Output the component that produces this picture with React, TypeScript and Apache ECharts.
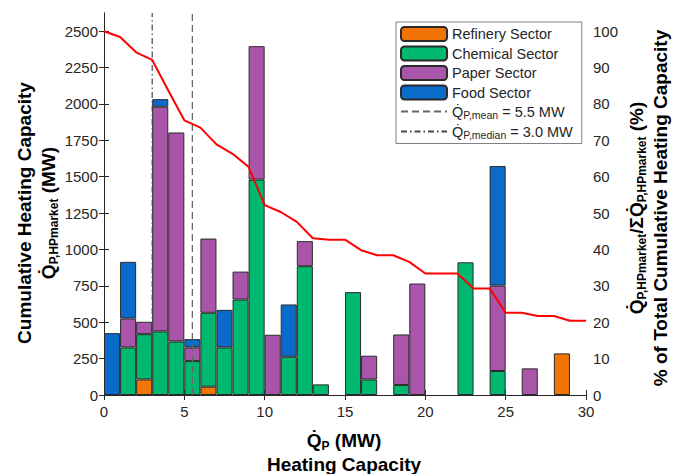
import React, { useEffect, useRef } from "react";
import * as echarts from "echarts";

// Bin start (MW), each bin 1 MW wide
const binStarts = [0, 1, 2, 3, 4, 5, 6, 7, 8, 9, 10, 11, 12, 13, 14, 15, 16, 17, 18, 19, 20, 21, 22, 23, 24, 25, 26, 27, 28, 29];
const refinery = [null, null, 107, null, null, null, 57, null, null, null, null, null, null, null, null, null, null, null, null, null, null, null, null, null, null, null, null, null, 286, null];
const chemical = [null, 327, 311, 437, 368, 233, 508, 327, 656, 1480, null, 263, 885, 73, null, 707, 107, null, 69, null, null, null, 912, null, 165, null, null, null, null, null];
const paper = [null, 199, 85, 1544, 1436, 94, 510, null, 192, 917, 414, null, 172, null, null, null, 163, null, 347, 766, null, null, null, null, 587, null, 183, null, null, null];
const food = [425, 389, null, 52, null, 57, null, 258, null, null, null, 359, null, null, null, null, null, null, null, null, null, null, null, null, 821, null, null, null, null, null];

// Cumulative share curve (%)
const cumX = [0, 1, 2, 3, 4, 5, 6, 7, 8, 9, 10, 11, 12, 13, 14, 15, 16, 17, 18, 19, 20, 21, 22, 23, 24, 25, 26, 27, 28, 29, 30];
const cumPct = [100, 98.4, 94.2, 92.1, 83.7, 75.5, 73.5, 68.9, 66.3, 62.7, 52.2, 50.3, 47.6, 43.1, 42.7, 42.7, 39.8, 38.4, 38.4, 36.6, 33.4, 33.4, 33.4, 29.3, 29.3, 22.6, 22.6, 21.7, 21.7, 20.4, 20.4];

const meanQ = 5.5;
const medianQ = 3.0;

const xTicks = { min: 0, max: 30, interval: 5 };
const yLeft = { min: 0, max: 2625, interval: 250 };
const yRight = { min: 0, max: 105, interval: 10 };

const FONT = "'Liberation Sans', Arial, Helvetica, sans-serif";
const TXT = "#262626";

export default function App() {
  const ref = useRef<HTMLDivElement>(null);
  useEffect(() => {
    document.body.style.margin = "0";
    if (!ref.current) return;
    const chart = echarts.init(ref.current, null, { renderer: "svg" });
    const grid = { left: 104, right: 100, top: 13, bottom: 79 };
    const barStyle = (color: string) => ({ color, borderColor: "#2b2b2b", borderWidth: 1 });

    const axisCommon = {
      axisLine: { show: true, lineStyle: { color: TXT, width: 1 } },
      axisTick: { show: true, inside: true, length: 5, lineStyle: { color: TXT } },
      splitLine: { show: false },
    };
    const labelStyle = { fontSize: 15, color: TXT, fontFamily: FONT, formatter: (v: number) => String(v) };

    const legendText: Record<string, string> = {
      mean: "{q|Q\u0307}{s|P,mean}{t| = " + meanQ.toFixed(1) + " MW}",
      median: "{q|Q\u0307}{s|P,median}{t| = " + medianQ.toFixed(1) + " MW}",
    };

    const titleRich = {
      a: { fontSize: 19, fontWeight: "bold", fontFamily: FONT, color: TXT, lineHeight: 24 },
      q: { fontSize: 19, fontWeight: "bold", fontFamily: FONT, color: TXT, lineHeight: 24 },
      s: { fontSize: 12, fontWeight: "bold", fontFamily: FONT, color: TXT, lineHeight: 24, verticalAlign: "bottom" },
    };

    chart.setOption({
      animation: false,
      backgroundColor: "#fff",
      grid: { ...grid, containLabel: false },
      xAxis: [
        { type: "value", position: "bottom", ...xTicks, ...axisCommon, axisLabel: { ...labelStyle, margin: 9 } },
        { type: "value", position: "top", ...xTicks, ...axisCommon, axisLabel: { show: false } },
        { type: "category", position: "bottom", data: binStarts.map(String), boundaryGap: true, show: false },
      ],
      yAxis: [
        { type: "value", position: "left", ...yLeft, ...axisCommon, axisLabel: { ...labelStyle, margin: 6, showMaxLabel: false } },
        { type: "value", position: "right", ...yRight, ...axisCommon, axisLabel: { ...labelStyle, margin: 7, showMaxLabel: false } },
      ],
      legend: {
        orient: "vertical",
        left: 396,
        top: 22,
        padding: [4, 9, 3, 4],
        itemWidth: 46,
        itemHeight: 14,
        itemGap: 3.5,
        borderColor: "#808080",
        borderWidth: 1,
        backgroundColor: "#fff",
        data: [
          "Refinery Sector",
          "Chemical Sector",
          "Paper Sector",
          "Food Sector",
          { name: "mean", itemStyle: { opacity: 0 } },
          { name: "median", itemStyle: { opacity: 0 } },
        ],
        formatter: (name: string) => legendText[name] || "{t|" + name + "}",
        textStyle: {
          rich: {
            t: { fontSize: 14.5, fontFamily: FONT, color: TXT, lineHeight: 18 },
            q: { fontSize: 14.5, fontFamily: FONT, color: TXT, lineHeight: 18 },
            s: { fontSize: 10.5, fontFamily: FONT, color: TXT, lineHeight: 18, verticalAlign: "bottom" },
          },
        },
      },
      graphic: [
        {
          type: "text",
          x: 36,
          y: 213,
          rotation: Math.PI / 2,
          style: {
            text: "{a|Cumulative Heating Capacity}\n{q|Q\u0307}{s|P,HPmarket}{a| (MW)}",
            rich: titleRich,
            align: "center",
            verticalAlign: "middle",
          },
        },
        {
          type: "text",
          x: 648,
          y: 208,
          rotation: Math.PI / 2,
          style: {
            text: "{q|Q\u0307}{s|P,HPmarket}{a|/\u03A3Q\u0307}{s|P,HPmarket}{a| (%)}\n{a|% of Total Cumulative Heating Capacity}",
            rich: titleRich,
            align: "center",
            verticalAlign: "middle",
          },
        },
        {
          type: "text",
          x: 344,
          y: 452,
          style: {
            text: "{q|Q\u0307}{s|P}{a| (MW)}\n{a|Heating Capacity}",
            rich: titleRich,
            align: "center",
            verticalAlign: "middle",
          },
        },
      ],
      series: [
        { name: "Refinery Sector", type: "bar", stack: "q", xAxisIndex: 2, barCategoryGap: "0%", data: refinery, itemStyle: barStyle("#F27405") },
        { name: "Chemical Sector", type: "bar", stack: "q", xAxisIndex: 2, barCategoryGap: "0%", data: chemical, itemStyle: barStyle("#00B870") },
        { name: "Paper Sector", type: "bar", stack: "q", xAxisIndex: 2, barCategoryGap: "0%", data: paper, itemStyle: barStyle("#A855AA") },
        { name: "Food Sector", type: "bar", stack: "q", xAxisIndex: 2, barCategoryGap: "0%", data: food, itemStyle: barStyle("#0A6BCB") },
        {
          name: "cumulative",
          type: "line",
          xAxisIndex: 0,
          yAxisIndex: 1,
          symbol: "none",
          data: cumX.map((x, i) => [x, cumPct[i]]),
          lineStyle: { color: "#FF0000", width: 2 },
          itemStyle: { color: "#FF0000" },
          z: 5,
        },
        {
          name: "mean",
          type: "line",
          xAxisIndex: 0,
          symbol: "none",
          data: [[meanQ, yLeft.min], [meanQ, yLeft.max]],
          lineStyle: { color: "#666", width: 1.3, type: [7, 4] },
          itemStyle: { color: "#666" },
          z: 4,
        },
        {
          name: "median",
          type: "line",
          xAxisIndex: 0,
          symbol: "none",
          data: [[medianQ, yLeft.min], [medianQ, yLeft.max]],
          lineStyle: { color: "#444", width: 1.2, type: [6, 3, 1.5, 3] },
          itemStyle: { color: "#444" },
          z: 4,
        },
      ],
    });
    return () => chart.dispose();
  }, []);
  return <div ref={ref} style={{ width: 686, height: 474 }} />;
}
